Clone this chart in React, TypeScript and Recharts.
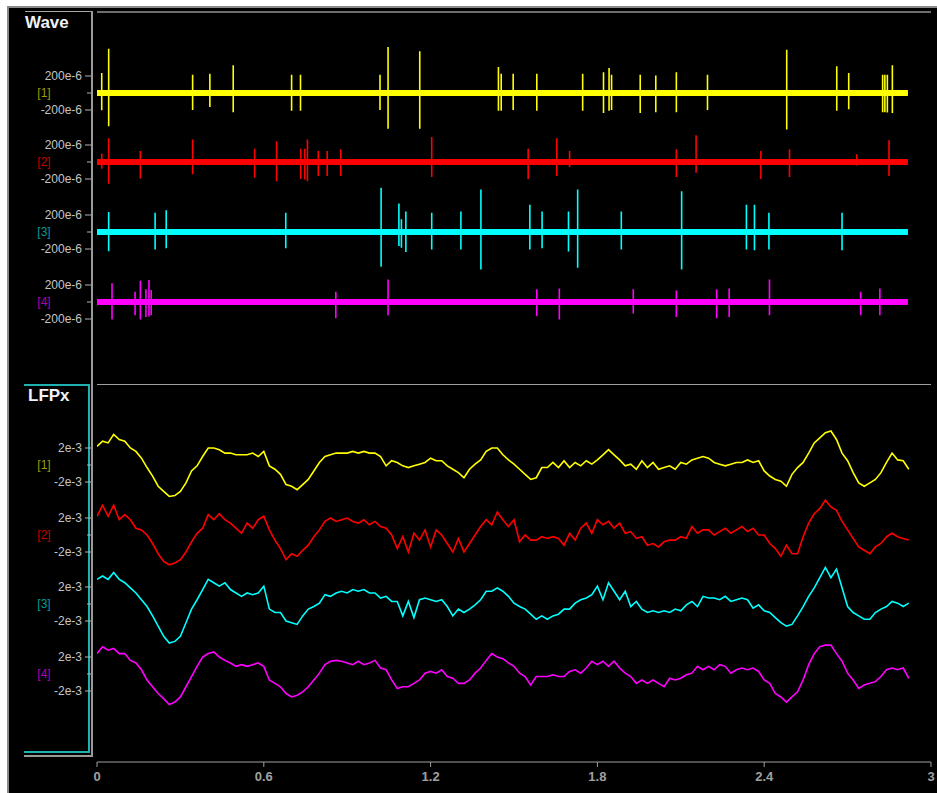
import React from 'react';
import { LineChart, Line, XAxis, YAxis } from 'recharts';

// ---------------- DATA ----------------
const WAVE_END = 2.917; // s, last sample of the Wave traces
// Spikes per channel: [time (s), positive peak (µV), negative peak (µV)]
const wave1Spikes: [number, number, number][] = [
  [0.017, 235, -204], [0.042, 520, -390], [0.344, 215, -200], [0.406, 225, -165], [0.49, 325, -225],
  [0.7, 215, -210], [0.732, 215, -210], [1.018, 215, -200], [1.047, 540, -420], [1.161, 490, -420],
  [1.444, 305, -210], [1.454, 225, -210], [1.497, 225, -200], [1.582, 225, -210], [1.747, 225, -210],
  [1.822, 245, -235], [1.842, 295, -210], [1.851, 215, -200], [1.954, 215, -235], [2.01, 205, -225],
  [2.084, 245, -225], [2.196, 215, -200], [2.481, 510, -430], [2.661, 315, -210], [2.704, 235, -190],
  [2.826, 215, -225], [2.834, 215, -225], [2.843, 215, -230], [2.861, 325, -235],
];
const wave2Spikes: [number, number, number][] = [
  [0.017, 100, -80], [0.042, 280, -255], [0.156, 130, -195], [0.344, 265, -145], [0.567, 155, -185],
  [0.646, 245, -225], [0.733, 155, -200], [0.747, 155, -205], [0.757, 265, -225], [0.796, 130, -165],
  [0.828, 130, -165], [0.877, 150, -165], [1.204, 295, -175], [1.551, 155, -200], [1.654, 280, -165],
  [1.7, 130, -60], [2.084, 150, -175], [2.155, 315, -125], [2.388, 130, -200], [2.491, 150, -175],
  [2.733, 90, -40], [2.849, 255, -165],
];
const wave3Spikes: [number, number, number][] = [
  [0.042, 235, -225], [0.209, 225, -205], [0.249, 255, -190], [0.679, 225, -190], [1.022, 520, -410],
  [1.086, 335, -165], [1.095, 150, -185], [1.111, 240, -235], [1.204, 225, -205], [1.309, 240, -205],
  [1.381, 500, -440], [1.557, 320, -205], [1.601, 240, -190], [1.696, 240, -230], [1.729, 500, -420],
  [1.886, 240, -205], [2.103, 480, -440], [2.336, 320, -205], [2.365, 320, -215], [2.417, 225, -205],
  [2.68, 225, -215],
];
const wave4Spikes: [number, number, number][] = [
  [0.054, 220, -205], [0.137, 120, -155], [0.156, 250, -205], [0.176, 150, -175], [0.187, 260, -170],
  [0.195, 140, -155], [0.859, 120, -190], [1.047, 265, -155], [1.582, 150, -165], [1.663, 160, -205],
  [1.929, 150, -135], [2.084, 135, -175], [2.229, 150, -190], [2.274, 160, -175], [2.419, 265, -155],
  [2.747, 120, -155], [2.816, 160, -155],
];

// LFPx traces (mV), one sample every lfpStep seconds starting at 0
const lfpStep = 0.02;
const lfp1 = [
  2.2, 2.8, 2.6, 3.6, 3.0, 2.8, 2.0, 1.6, 0.8, -0.3,
  -1.3, -2.5, -3.1, -3.7, -3.6, -3.1, -2.1, -0.7, -0.1, 1.0,
  2.0, 2.0, 1.8, 1.4, 1.4, 1.2, 1.2, 1.2, 1.4, 1.0,
  1.6, -0.1, -0.5, -1.1, -2.3, -2.5, -2.9, -2.3, -1.7, -0.7,
  0.3, 1.0, 1.2, 1.4, 1.4, 1.4, 1.6, 1.4, 1.6, 1.4,
  1.4, 1.0, -0.1, 0.5, 0.3, -0.1, -0.3, -0.1, 0.1, 0.3,
  0.8, 0.5, 0.5, -0.1, -0.5, -0.9, -1.5, -0.5, 0.1, 0.6,
  1.6, 2.0, 2.0, 1.2, 0.6, 0.1, -0.5, -1.1, -1.7, -1.5,
  -0.3, -0.3, 0.3, -0.3, 0.5, -0.3, 0.3, -0.1, 0.5, 0.1,
  0.6, 1.2, 1.8, 1.2, 0.6, -0.1, 0.1, -0.5, 0.5, -0.3,
  0.3, -0.5, -0.3, -0.1, -0.5, 0.3, 0.1, 0.6, 0.8, 1.0,
  0.8, 0.3, 0.1, -0.1, 0.1, 0.3, 0.3, 0.6, 0.3, 0.5,
  -0.7, -1.3, -1.7, -1.9, -2.5, -1.1, -0.3, 0.3, 1.4, 2.6,
  3.2, 3.8, 4.0, 3.0, 1.4, 0.5, -0.9, -2.1, -2.5, -2.1,
  -1.7, -0.9, 0.3, 1.4, 0.6, 0.5, -0.5,
];
const lfp2 = [
  2.2, 3.5, 2.2, 3.5, 1.8, 2.4, 1.8, 0.8, 0.6, 0,
  -1.0, -2.2, -3.1, -3.5, -3.3, -2.9, -2.0, -0.8, 0.2, 0.8,
  2.4, 1.8, 2.5, 1.8, 1.4, 0.8, 0.2, 1.4, 0.8, 1.8,
  2.2, 0.6, -0.6, -1.6, -2.9, -2.2, -2.5, -1.8, -1.2, -0.2,
  0.6, 1.6, 2.0, 1.6, 1.8, 2.0, 1.6, 1.4, 1.8, 1.2,
  1.6, 1.0, 0.8, 0, -1.6, -0.2, -2.0, 0.2, -0.6, 0.6,
  -1.4, 0.6, 0, -1.0, -2.0, -0.4, -2.0, -1.0, 0, 1.0,
  1.8, 1.2, 2.7, 1.8, 1.0, 1.8, -0.8, 0, -0.6, -0.6,
  -0.2, -0.4, -0.2, -0.4, -1.2, 0.2, -0.6, 0.8, 1.4, 0.2,
  1.8, 1.2, 1.6, 0.8, 1.4, 0.2, 0.4, -0.4, -0.2, -1.2,
  -1.0, -1.4, -0.8, -0.6, -0.6, -0.2, -0.4, 1.0, 0.2, 0.6,
  0.6, 0, 0.4, 0.8, 0.2, 0.6, 1.0, 0.4, 0.8, 0,
  0, -1.0, -1.6, -2.5, -1.2, -2.2, -2.2, -0.2, 1.4, 2.5,
  3.1, 4.1, 3.3, 2.9, 1.6, 0.6, -0.4, -1.4, -1.8, -2.2,
  -1.4, -1.0, -0.2, 0.2, -0.2, -0.4, -0.6,
];
const lfp3 = [
  2.9, 3.3, 2.9, 3.7, 2.9, 2.5, 1.9, 1.3, 0.5, -0.3,
  -1.4, -2.6, -3.8, -4.6, -4.4, -3.8, -2.2, -0.6, 0.5, 1.7,
  2.9, 2.5, 2.1, 2.5, 1.7, 1.3, 0.9, 1.3, 1.1, 1.3,
  2.1, -0.6, -1.0, -1.0, -2.0, -2.2, -2.4, -1.4, -0.6, -0.3,
  0.1, 1.1, 0.9, 1.3, 1.5, 1.3, 1.7, 1.5, 1.7, 1.3,
  1.3, 0.7, 0.9, 0.3, 0.3, -1.4, 0.3, -1.6, 0.5, 0.7,
  0.5, 0.3, 0.5, -0.3, -1.4, -0.6, -1.0, -0.6, -0.1, 0.5,
  1.5, 1.5, 1.9, 1.5, 0.9, 0.1, -0.3, -0.6, -1.2, -1.8,
  -1.4, -1.8, -1.4, -1.2, -0.6, -0.6, 0.1, 0.5, 0.7, 1.1,
  2.1, 0.5, 2.5, 1.5, 0.5, 1.5, -0.3, 0.3, -0.6, -1.0,
  -0.8, -1.0, -0.8, -1.0, -0.6, -0.8, -0.1, 0.3, -0.3, 0.9,
  0.7, 0.7, 0.5, 0.9, 0.3, 0.5, 0.7, 0.5, -0.5, -0.1,
  -0.8, -1.0, -1.6, -2.2, -2.6, -2.4, -1.4, -0.3, 0.9, 1.9,
  3.1, 4.3, 3.1, 4.1, 1.9, -0.3, -1.0, -1.4, -1.8, -1.8,
  -1.0, -0.6, -0.3, 0.3, 0.1, -0.3, 0.1,
];
const lfp4 = [
  2.4, 3.2, 2.8, 3.0, 2.4, 2.4, 1.6, 1.3, 0.5, -0.7,
  -1.5, -2.3, -2.9, -3.6, -3.3, -2.7, -1.5, -0.3, 0.9, 2.0,
  2.4, 2.6, 2.0, 1.6, 1.3, 0.9, 1.1, 0.9, 1.1, 1.3,
  0.9, -0.7, -1.1, -1.5, -2.3, -2.7, -2.5, -2.1, -1.5, -0.7,
  0.1, 1.1, 1.5, 1.6, 1.5, 1.3, 1.1, 1.5, 1.1, 1.3,
  1.6, 0.7, 0.5, -0.7, -1.7, -1.5, -1.5, -1.1, -0.7, 0.1,
  0.3, 0.1, 0.5, -0.3, -0.5, -1.1, -1.1, -0.7, 0.1, 0.7,
  1.6, 2.4, 2.0, 1.8, 1.3, 0.9, 0.1, -0.3, -1.3, -0.3,
  -0.3, -0.3, -0.1, -0.3, -0.3, 0.3, 0.5, 0.1, 0.7, 1.5,
  1.1, 1.5, 0.9, 1.5, 0.7, 0.1, -0.3, -1.1, -0.7, -1.1,
  -0.7, -1.1, -1.5, -0.5, -0.7, -0.5, -0.1, 0.1, 0.9, 0.5,
  0.9, 0.5, 1.1, 0.9, 0.1, 0.5, 0.7, 0.5, 0.7, 0.3,
  -0.7, -1.1, -2.3, -2.7, -3.3, -2.7, -2.1, -0.7, 1.1, 2.4,
  3.2, 3.4, 3.4, 2.4, 1.5, 0.1, -0.7, -1.7, -1.3, -1.1,
  -0.9, -0.3, 0.5, 0.7, 0.5, 0.7, -0.5,
];

const channelNames = ['[1]', '[2]', '[3]', '[4]'];
const traceColors = ['#ffff00', '#ff0000', '#00ffff', '#ff00ff'];
const labelColors = ['#9c9c00', '#c40000', '#009c9c', '#b000b0'];
const waveTicks = [200, 0, -200]; // µV
const lfpTicks = [2, 0, -2]; // mV
const xTicks = [0, 0.6, 1.2, 1.8, 2.4, 3];

// ---------------- BUILD ----------------
type Pt = { t: number; v: number };
function spikeSeries(spikes: [number, number, number][]): Pt[] {
  const pts: Pt[] = [{ t: 0, v: 0 }];
  for (const [t, up, dn] of spikes) {
    pts.push({ t, v: 0 }, { t, v: up }, { t, v: dn }, { t, v: 0 });
  }
  pts.push({ t: WAVE_END, v: 0 });
  return pts;
}
const baseSeries: Pt[] = [{ t: 0, v: 0 }, { t: WAVE_END, v: 0 }];
const lfpSeries = (arr: number[]): Pt[] => arr.map((v, i) => ({ t: i * lfpStep, v }));

const waveData = [wave1Spikes, wave2Spikes, wave3Spikes, wave4Spikes].map(spikeSeries);
const lfpData = [lfp1, lfp2, lfp3, lfp4].map(lfpSeries);

const FONT = '"Liberation Sans", Arial, sans-serif';
const CH_H = 160;
const WAVE_HALF = 941; // µV over 80px
const LFP_HALF = 9.41; // mV over 80px
const waveTops = [13, 82, 152, 222];
const lfpTops = [385, 455, 524, 594];

function makeTick(idx: number, suffix: string) {
  return (props: any) => {
    const { x, y, payload } = props;
    const v = payload.value;
    if (v === 0) {
      return (
        <g>
          <line x1={x - 10} x2={x - 6} y1={y} y2={y} stroke="#b4b4b4" strokeWidth={1} />
          <text x={x - 53} y={y + 4} textAnchor="middle" fontSize={12} fontFamily={FONT} fill={labelColors[idx]}>
            {channelNames[idx]}
          </text>
        </g>
      );
    }
    return (
      <g>
        <line x1={x - 12} x2={x - 6} y1={y} y2={y} stroke="#b4b4b4" strokeWidth={1} />
        <text x={x - 15} y={y + 4} textAnchor="end" fontSize={12} fontFamily={FONT} fill="#c4c4c4">
          {`${v}${suffix}`}
        </text>
      </g>
    );
  };
}

function Channel({ top, idx, kind }: { top: number; idx: number; kind: 'wave' | 'lfp' }) {
  const half = kind === 'wave' ? WAVE_HALF : LFP_HALF;
  return (
    <div style={{ position: 'absolute', left: 0, top }}>
      <LineChart width={937} height={CH_H} margin={{ top: 0, right: 6, bottom: 0, left: 7 }}>
        <XAxis type="number" dataKey="t" domain={[0, 3]} hide allowDataOverflow />
        <YAxis
          type="number"
          domain={[-half, half]}
          allowDataOverflow
          ticks={kind === 'wave' ? waveTicks : lfpTicks}
          interval={0}
          width={90}
          axisLine={false}
          tickLine={false}
          tickSize={0}
          tickMargin={0}
          tick={makeTick(idx, kind === 'wave' ? 'e-6' : 'e-3')}
        />
        {kind === 'wave' ? (
          <Line data={baseSeries} dataKey="v" stroke={traceColors[idx]} strokeWidth={6} dot={false} isAnimationActive={false} />
        ) : null}
        {kind === 'wave' ? (
          <Line data={waveData[idx]} dataKey="v" stroke={traceColors[idx]} strokeWidth={1.6} dot={false} isAnimationActive={false} />
        ) : (
          <Line data={lfpData[idx]} dataKey="v" stroke={traceColors[idx]} strokeWidth={1.6} dot={false} isAnimationActive={false} />
        )}
      </LineChart>
    </div>
  );
}

const box = (l: number, t: number, w: number, h: number, c: string) => (
  <div style={{ position: 'absolute', left: l, top: t, width: w, height: h, background: c }} />
);

export default function App() {
  return (
    <div style={{ position: 'absolute', left: 0, top: 0, width: 937, height: 793, background: '#ffffff', overflow: 'hidden', fontFamily: FONT }}>
      <div
        style={{
          position: 'absolute', left: 7, top: 6, width: 930, height: 787, background: '#000',
          borderTop: '2px solid #8a8a8a', borderLeft: '2px solid #8a8a8a', boxSizing: 'border-box',
        }}
      />
      {/* frames */}
      {box(25, 11, 67, 1, '#a8a8a8')}
      {box(97, 11, 834, 2, '#6e6e6e')}
      {box(91, 11, 2, 746, '#9a9a9a')}
      {box(97, 384, 834, 1, '#a0a0a0')}
      {box(24, 384, 66, 2, '#1fb0b0')}
      {box(88, 384, 2, 369, '#1fb0b0')}
      {box(24, 751, 66, 2, '#1fb0b0')}
      {box(24, 755, 68, 2, '#9a9a9a')}
      <div style={{ position: 'absolute', left: 25, top: 13, fontSize: 17, lineHeight: '20px', fontWeight: 'bold', color: '#eef2f8' }}>Wave</div>
      <div style={{ position: 'absolute', left: 28, top: 386, fontSize: 17, lineHeight: '20px', fontWeight: 'bold', color: '#eef2f8' }}>LFPx</div>

      {waveTops.map((t, i) => (
        <Channel key={'w' + i} top={t} idx={i} kind="wave" />
      ))}
      {lfpTops.map((t, i) => (
        <Channel key={'l' + i} top={t} idx={i} kind="lfp" />
      ))}

      <div style={{ position: 'absolute', left: 0, top: 700 }}>
        <LineChart width={937} height={93} data={lfpData[0]} margin={{ top: 0, right: 6, bottom: 0, left: 97 }}>
          <XAxis
            type="number"
            dataKey="t"
            domain={[0, 3]}
            ticks={xTicks}
            interval={0}
            height={31}
            tickSize={5}
            tickMargin={5}
            stroke="#a0a0a0"
            tick={{ fill: '#a0a0a0', fontSize: 13, fontWeight: 'bold', fontFamily: FONT }}
          />
          <YAxis hide domain={[-1, 1]} />
        </LineChart>
      </div>
    </div>
  );
}
